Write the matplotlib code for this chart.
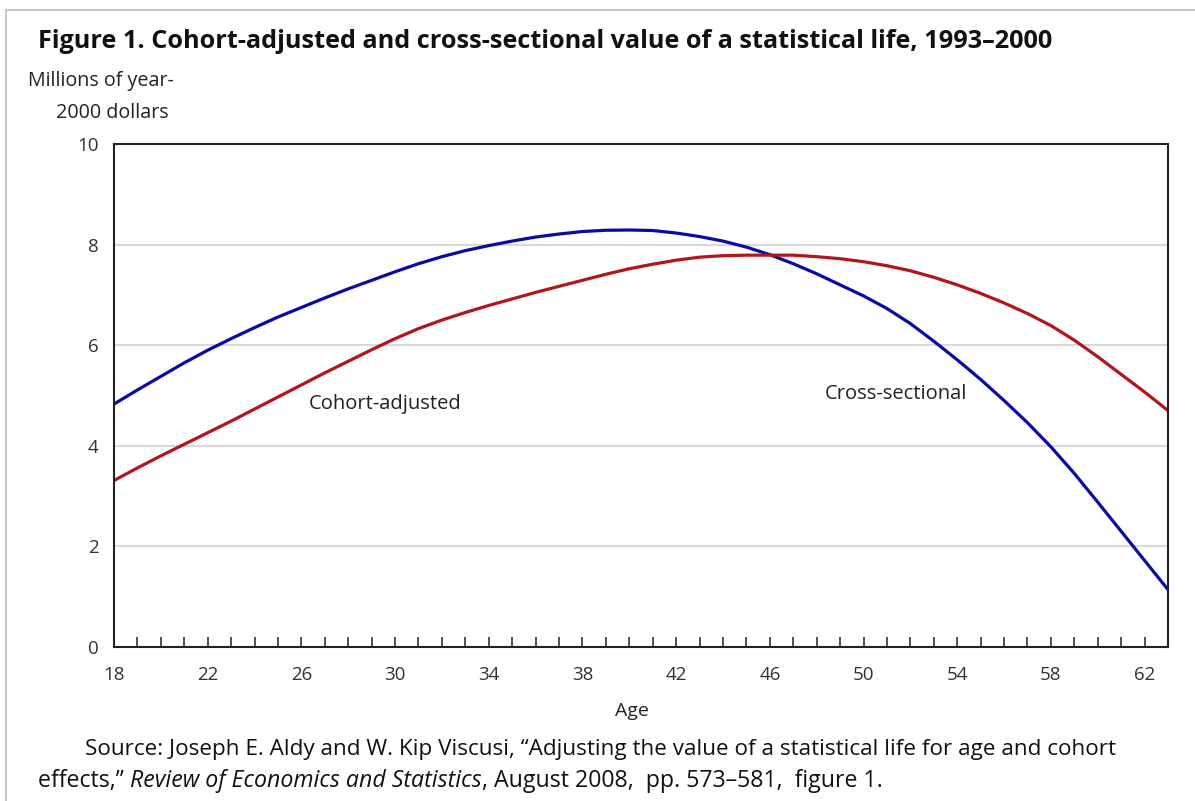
import matplotlib
matplotlib.use("Agg")
import matplotlib.pyplot as plt
from matplotlib.lines import Line2D
from matplotlib.ticker import MultipleLocator

ages = list(range(18, 64))
cross_sectional = [4.83, 5.11, 5.38, 5.65, 5.90, 6.13, 6.35, 6.56, 6.75, 6.94,
                   7.12, 7.29, 7.46, 7.62, 7.76, 7.88, 7.98, 8.07, 8.15, 8.21,
                   8.26, 8.285, 8.29, 8.28, 8.23, 8.16, 8.07, 7.95, 7.80, 7.62,
                   7.42, 7.20, 6.98, 6.73, 6.43, 6.08, 5.71, 5.32, 4.90, 4.46,
                   3.98, 3.45, 2.88, 2.30, 1.72, 1.14]
cohort_adjusted = [3.31, 3.56, 3.80, 4.03, 4.26, 4.49, 4.73, 4.97, 5.21, 5.45,
                   5.68, 5.91, 6.13, 6.33, 6.50, 6.65, 6.79, 6.92, 7.05, 7.17,
                   7.29, 7.41, 7.52, 7.61, 7.69, 7.75, 7.78, 7.79, 7.79, 7.79,
                   7.76, 7.72, 7.66, 7.58, 7.48, 7.35, 7.20, 7.03, 6.84, 6.63,
                   6.39, 6.10, 5.77, 5.42, 5.07, 4.70]
x_tick_labels = list(range(18, 63, 4))
y_tick_labels = [0, 2, 4, 6, 8, 10]

FONT = "Open Sans"
W, H = 1195, 801
fig = plt.figure(figsize=(W / 100, H / 100), dpi=100)
fig.patch.set_facecolor("white")
fig.canvas.draw()
renderer = fig.canvas.get_renderer()


def fit(t, target_px):
    for _ in range(3):
        w = t.get_window_extent(renderer=renderer).width
        t.set_fontsize(t.get_fontsize() * target_px / w)
    return t


# light frame on left/top
fig.add_artist(Line2D([6 / W, 6 / W], [0, 1 - 10 / H], transform=fig.transFigure,
                      color="#c8c8c8", lw=1.5))
fig.add_artist(Line2D([6 / W, 1], [1 - 10 / H, 1 - 10 / H], transform=fig.transFigure,
                      color="#c8c8c8", lw=1.5))

ax = fig.add_axes([114 / W, 1 - 647 / H, (1168 - 114) / W, (647 - 144) / H])
ax.plot(ages, cross_sectional, color="#0a0aa6", lw=2.3, solid_capstyle="butt")
ax.plot(ages, cohort_adjusted, color="#b0161b", lw=2.3, solid_capstyle="butt")

ax.set_xlim(18, 63)
ax.set_ylim(0, 10)
ax.set_xticks(x_tick_labels)
ax.set_xticklabels([str(v) for v in x_tick_labels], fontfamily=FONT, fontsize=13.5, color="#333333")
ax.xaxis.set_minor_locator(MultipleLocator(1))
ax.tick_params(axis="x", which="both", direction="in", length=7, width=1.1, color="#222222", pad=14)
ax.set_yticks(y_tick_labels)
ax.set_yticklabels([str(v) for v in y_tick_labels], fontfamily=FONT, fontsize=13.5, color="#333333")
ax.tick_params(axis="y", which="both", length=0, pad=11)
ax.grid(axis="y", color="#d9d9d9", lw=1.5)
ax.set_axisbelow(True)
for s in ax.spines.values():
    s.set_color("#222222")
    s.set_linewidth(1.5)

t = ax.text(26.3, 4.83, "Cohort-adjusted", fontfamily=FONT, fontsize=12, color="#222222",
            ha="left", va="center")
fit(t, 152)
t = ax.text(48.36, 5.02, "Cross-sectional", fontfamily=FONT, fontsize=12, color="#222222",
            ha="left", va="center")
fit(t, 142)

t = fig.text(38 / W, 1 - 42 / H,
             "Figure 1. Cohort-adjusted and cross-sectional value of a statistical life, 1993\u20132000",
             fontfamily=FONT, fontweight="bold", fontsize=15, color="#111111", ha="left", va="center")
fit(t, 1015)
t = fig.text(28 / W, 1 - 81 / H, "Millions of year-", fontfamily=FONT, fontsize=12,
             color="#222222", ha="left", va="center")
fit(t, 147)
ylab_size = t.get_fontsize()
fig.text(112 / W, 1 - 113 / H, "2000 dollars", fontfamily=FONT, fontsize=ylab_size,
         color="#222222", ha="center", va="center")
fig.text(632 / W, 1 - 711 / H, "Age", fontfamily=FONT, fontsize=14,
         color="#222222", ha="center", va="center")

t = fig.text(85 / W, 1 - 750 / H,
             "Source: Joseph E. Aldy and W. Kip Viscusi, \u201cAdjusting the value of a statistical life for age and cohort",
             fontfamily=FONT, fontsize=14, color="#111111", ha="left", va="center")
fit(t, 1028)
src_size = t.get_fontsize()

pieces = [("effects,\u201d ", "normal"),
          ("Review of Economics and Statistics", "italic"),
          (", August 2008,  pp. 573\u2013581,  figure 1.", "normal")]
# measure total width to fit the second line
total = 0
tmp = []
for txt, style in pieces:
    tt = fig.text(0, 0, txt, fontfamily=FONT, fontsize=src_size, fontstyle=style)
    total += tt.get_window_extent(renderer=renderer).width
    tmp.append(tt)
for tt in tmp:
    tt.remove()
size2 = src_size * 847 / total
x0 = 38
for txt, style in pieces:
    t = fig.text(x0 / W, 1 - 781 / H, txt, fontfamily=FONT, fontsize=size2, fontstyle=style,
                 color="#111111", ha="left", va="center")
    bb = t.get_window_extent(renderer=renderer)
    x0 += bb.width

fig.savefig("out.png", dpi=100, facecolor="white")
